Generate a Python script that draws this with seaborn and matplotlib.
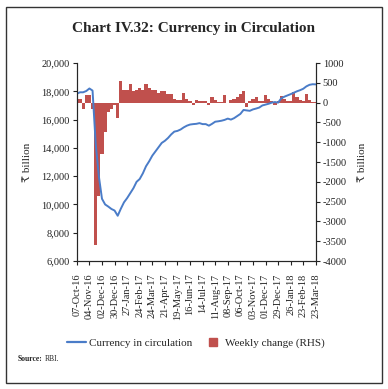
import numpy as np
import pandas as pd
import matplotlib
matplotlib.use("Agg")
import matplotlib.pyplot as plt
import seaborn as sns
from matplotlib.lines import Line2D
from matplotlib.patches import Rectangle

# weekly data, 07-Oct-16 to 23-Mar-18
weeks = pd.date_range("2016-10-07", periods=77, freq="7D")

currency_in_circulation = [
    17830, 17930, 17930, 18020, 18200, 18050, 14300, 12000, 10400, 10000,
    9850, 9680, 9570, 9200, 9700, 10150, 10450, 10800, 11150, 11600,
    11800, 12200, 12700, 13050, 13450, 13750, 14050, 14350, 14500, 14700,
    14950, 15150, 15200, 15300, 15450, 15570, 15650, 15680, 15700, 15750,
    15680, 15680, 15570, 15700, 15850, 15880, 15920, 15980, 16070, 16000,
    16100, 16250, 16400, 16680, 16650, 16620, 16720, 16780, 16850, 17000,
    17060, 17120, 17200, 17240, 17200, 17500, 17620, 17710, 17800, 17900,
    18000, 18080, 18180, 18350, 18460, 18500, 18490,
]

weekly_change = [
    280, 100, -170, 180, 200, -150, -3600, -2360, -1310, -730,
    -230, -150, -60, -400, 540, 320, 330, 460, 300, 330,
    380, 330, 460, 380, 330, 320, 250, 290, 290, 230,
    230, 90, 60, 60, 250, 90, 40, -50, 60, 50,
    40, 30, -60, 150, 60, 10, 20, 180, 0, 60,
    100, 150, 220, 290, -100, 40, 80, 140, 30, 40,
    200, 80, 30, -70, 40, 165, 80, 30, 30, 260,
    130, 70, 30, 220, 70, 20, 10,
]

df = pd.DataFrame({
    "week": np.arange(len(weeks)),
    "cic": currency_in_circulation,
    "change": weekly_change,
})
tick_pos = df["week"][::4]
tick_labels = [d.strftime("%d-%b-%y") for d in weeks[::4]]

sns.set_style("ticks")
plt.rcParams["font.family"] = ["Liberation Serif", "DejaVu Serif", "DejaVu Sans"]
plt.rcParams["axes.unicode_minus"] = False

blue = "#4a7cc8"
red = "#c0504d"

fig = plt.figure(figsize=(3.88, 3.89), dpi=100)
ax = fig.add_axes([0.198, 0.329, 0.616, 0.509])
ax2 = ax.twinx()

sns.barplot(data=df, x="week", y="change", ax=ax2, native_scale=True,
            color=red, width=1.0, saturation=1, linewidth=0)
sns.lineplot(data=df, x="week", y="cic", ax=ax, color=blue, linewidth=1.4)

ax.set_zorder(ax2.get_zorder() + 1)
ax.patch.set_visible(False)

ax.set_xlim(0, 76)
ax2.set_xlim(0, 76)
ax.set_ylim(6000, 20000)
ax2.set_ylim(-4000, 1000)

ax.set_yticks(np.arange(6000, 20001, 2000))
ax.set_yticklabels([f"{v:,}" for v in range(6000, 20001, 2000)])
ax2.set_yticks(np.arange(-4000, 1001, 500))
ax2.set_yticklabels([f"{v}" for v in range(-4000, 1001, 500)])
ax.set_xticks(tick_pos)
ax.set_xticklabels(tick_labels, rotation=90)

for a in (ax, ax2):
    a.tick_params(labelsize=7.5, length=3, width=0.8, colors="#222222", pad=2)
    a.spines["top"].set_visible(False)
    for s in a.spines.values():
        s.set_linewidth(0.8)
ax.tick_params(axis="x", pad=6)
ax.set_xlabel("")
ax2.set_xlabel("")
ax.set_ylabel("₹ billion", fontsize=8, labelpad=7)
ax2.set_ylabel("₹ billion", fontsize=8, rotation=90, labelpad=8)

fig.text(0.5, 0.928, "Chart IV.32: Currency in Circulation", ha="center",
         va="center", fontsize=11, fontweight="bold")

handles = [Line2D([0], [0], color=blue, lw=1.6),
           Line2D([0], [0], color=red, lw=0, marker="s", markersize=6)]
fig.legend(handles, ["Currency in circulation", "Weekly change (RHS)"],
           loc="center", bbox_to_anchor=(0.505, 0.118), ncol=2, frameon=False,
           fontsize=8, handlelength=1.7, handletextpad=0.3, columnspacing=1.0)

fig.text(0.045, 0.077, "Source:", fontsize=5.5, fontweight="bold", va="center")
fig.text(0.115, 0.077, "RBI.", fontsize=5.5, va="center")

fig.patches.append(Rectangle((0.016, 0.016), 0.968, 0.966, transform=fig.transFigure,
                             fill=False, edgecolor="#333333", linewidth=1.0))

fig.savefig("out.png", dpi=100, facecolor="white")
